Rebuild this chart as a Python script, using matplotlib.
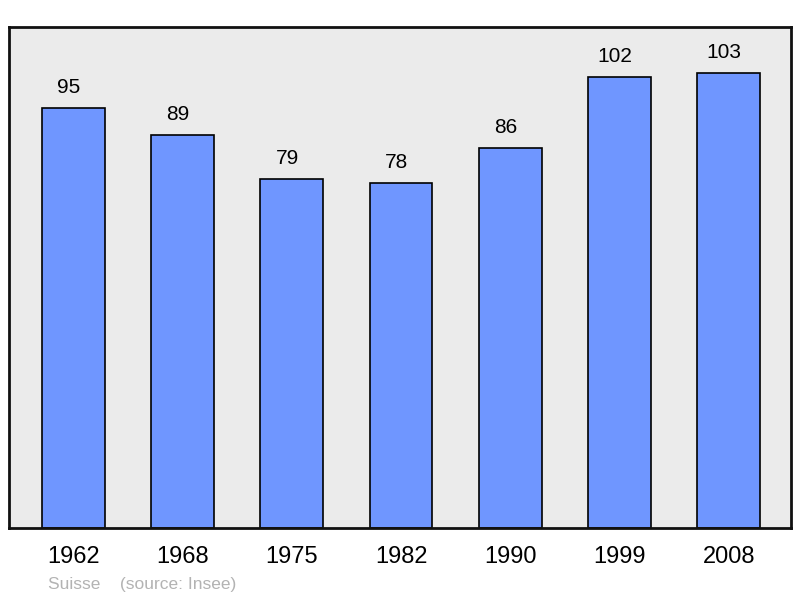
import matplotlib
matplotlib.use("Agg")
import matplotlib.pyplot as plt
import numpy as np

plt.rcParams["font.family"] = ["Liberation Sans", "DejaVu Sans"]

# Data
years = ["1962", "1968", "1975", "1982", "1990", "1999", "2008"]
population = [95, 89, 79, 78, 86, 102, 103]

fig = plt.figure(figsize=(8, 5.98), dpi=100)
ax = fig.add_axes([9 / 800, 70 / 598, 782 / 800, 501 / 598])
ax.set_facecolor("#ebebeb")

x = np.arange(len(years))
ax.bar(x, population, width=0.575, color="#6f96ff", edgecolor="black", linewidth=1.2, zorder=2)

# value labels above the bars (sit a little left of centre in the original)
for xi, v in zip(x, population):
    ax.annotate(str(v), (xi, v), xytext=(-3.5, 8), textcoords="offset points",
                ha="center", va="bottom", fontsize=15, color="black")

ax.set_xlim(-0.59, 6.57)
ax.set_ylim(0, 113.4)
ax.set_yticks([])
ax.set_xticks(x)
ax.set_xticklabels(years, fontsize=17)
ax.tick_params(axis="x", length=0, pad=13)
for s in ax.spines.values():
    s.set_linewidth(2)
    s.set_color("#111111")

fig.text(48 / 800, 1 - 584 / 598, "Suisse    (source: Insee)", fontsize=12.5,
         color="#b3b3b3", ha="left", va="center")

fig.savefig("out.png", dpi=100)
